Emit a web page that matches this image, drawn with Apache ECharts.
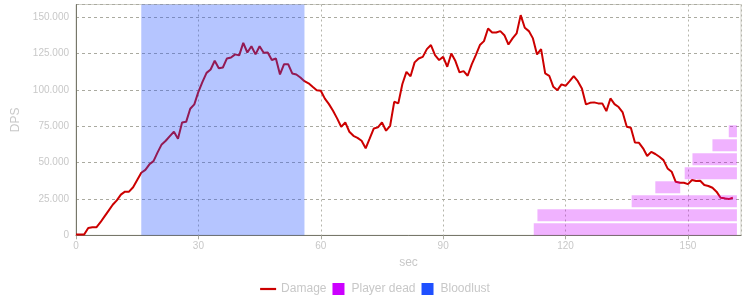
<!DOCTYPE html>
<html>
<head>
<meta charset="utf-8">
<script src="https://cdn.jsdelivr.net/npm/echarts@6/dist/echarts.min.js"></script>
<style>
html,body{margin:0;padding:0;background:#fff;}
#chart{width:750px;height:300px;}
</style>
</head>
<body>
<div id="chart"></div>
<script>
// DPS per second, starting at t = 0 s
const damage = [
  500, 500, 500, 5000, 5500, 5500, 9000, 13000, 17000, 21000,
  24000, 28000, 30000, 30000, 33000, 38000, 43000, 45000, 48800, 51000,
  57000, 62500, 65000, 68200, 71200, 66400, 77600, 78000, 87000, 90000,
  98700, 105500, 111700, 114000, 120000, 114800, 115400, 121600, 122300, 124400,
  123700, 132300, 125700, 130000, 124400, 130000, 125500, 125700, 120500, 121600,
  110600, 117700, 117700, 111300, 110600, 108500, 106000, 104500, 102100, 99800,
  99400, 94000, 90200, 85600, 80400, 74600, 77600, 71200, 68400, 67000,
  65000, 59800, 66600, 73500, 74200, 77600, 71900, 75300, 91800, 90700,
  104000, 112400, 109300, 118900, 121600, 122700, 128000, 130800, 123900, 120500,
  122700, 115900, 125000, 119800, 112000, 112900, 109700, 117500, 123900, 130800,
  133500, 142200, 139500, 139500, 140400, 137600, 131200, 135400, 138800, 151400,
  142700, 140400, 135400, 124400, 128000, 111300, 109700, 102100, 99800, 103800,
  102800, 106000, 109500, 106000, 101000, 90000, 91100, 91400, 90700, 90700,
  85400, 94100, 90200, 88200, 84500, 74600, 74000, 63800, 63600, 59800,
  54500, 57400, 55900, 54000, 51700, 46000, 43700, 36800, 36100, 36100,
  35200, 38000, 37300, 37500, 34600, 33900, 32700, 30000, 25800, 25400,
  24900, 25800
];
// player deaths: time of death and end of the bar (s)
const deathStart = [112.2, 113.1, 136.2, 142.0, 149.2, 151.1, 156.0, 160.0];
const deathEnd   = [162, 162, 162, 148.1, 162, 162, 162, 162];
// Bloodlust window (s)
const bloodlust = [16, 56];
const xTicks = [0, 30, 60, 90, 120, 150];
const yTicks = [0, 25000, 50000, 75000, 100000, 125000, 150000];

const textColor = '#c8c8c8';
const font = "'Liberation Sans', Arial, sans-serif";

function fmt(v) {
  return String(Math.round(v)).replace(/\B(?=(\d{3})+(?!\d))/g, '.');
}

const damageData = damage.map((v, i) => [i, v]);
const deathData = deathStart.map((s, i) => [s, deathEnd[i], i]);

const chart = echarts.init(document.getElementById('chart'), null, {renderer: 'canvas'});
chart.setOption({
  animation: false,
  backgroundColor: '#fff',
  textStyle: {fontFamily: font},
  grid: {left: 76, right: 9, top: 4.5, bottom: 64.7, show: true, borderColor: '#d0d0c8', borderWidth: 1},
  legend: {
    top: 278,
    left: 'center',
    itemWidth: 16,
    itemHeight: 12,
    itemGap: 6,
    textStyle: {color: textColor, fontSize: 12, fontFamily: font},
    data: [
      {name: 'Damage', icon: 'path://M0 0H16V2.2H0Z', itemStyle: {color: '#cc0000'}},
      {name: 'Player dead', icon: 'path://M0 0H12V12H0Z'},
      {name: 'Bloodlust', icon: 'path://M0 0H12V12H0Z'}
    ]
  },
  xAxis: {
    type: 'value',
    min: 0,
    max: 163,
    interval: 30,
    name: 'sec',
    nameLocation: 'middle',
    nameGap: 21,
    nameTextStyle: {color: textColor, fontSize: 12, fontFamily: font},
    axisLine: {show: true, lineStyle: {color: '#77776a', width: 1}},
    axisTick: {show: true, length: 4, lineStyle: {color: '#aaaaa0'}},
    axisLabel: {color: textColor, fontSize: 10, margin: 6, fontFamily: font, showMaxLabel: false,
      formatter: v => xTicks.indexOf(v) >= 0 ? String(v) : ''},
    splitLine: {show: true, lineStyle: {color: '#b4b4aa', type: [2, 3], width: 1}}
  },
  yAxis: [{
    type: 'value',
    min: 0,
    max: 158700,
    interval: 25000,
    name: 'DPS',
    nameLocation: 'middle',
    nameGap: 47,
    nameTextStyle: {color: textColor, fontSize: 12, fontFamily: font},
    axisLine: {show: true, lineStyle: {color: '#77776a', width: 1}},
    axisTick: {show: false},
    axisLabel: {color: textColor, fontSize: 10, margin: 7, fontFamily: font, showMaxLabel: false,
      formatter: v => yTicks.indexOf(v) >= 0 ? fmt(v) : ''},
    splitLine: {show: true, lineStyle: {color: '#aaaaa0', type: [3, 3], width: 1}}
  }, {
    type: 'value',
    show: false,
    min: 0,
    max: 16.48,
    splitLine: {show: false}
  }],
  series: [
    {
      name: 'Damage',
      type: 'line',
      data: damageData,
      symbol: 'none',
      z: 2,
      lineStyle: {color: '#cc0000', width: 2},
      itemStyle: {color: '#cc0000'}
    },
    {
      name: 'Bloodlust',
      type: 'custom',
      z: 3,
      itemStyle: {color: '#1f50ff'},
      data: [[bloodlust[0], bloodlust[1]]],
      renderItem: function (params, api) {
        const p0 = api.coord([api.value(0), 0]);
        const p1 = api.coord([api.value(1), 0]);
        const cs = params.coordSys;
        return {
          type: 'rect',
          shape: {x: p0[0], y: cs.y, width: p1[0] - p0[0], height: cs.height},
          style: {fill: 'rgba(31,80,255,0.33)'}
        };
      }
    },
    {
      name: 'Player dead',
      type: 'custom',
      z: 4,
      yAxisIndex: 1,
      itemStyle: {color: '#cc00ff'},
      data: deathData,
      renderItem: function (params, api) {
        const row = api.value(2);
        const a = api.coord([api.value(0), row]);
        const b = api.coord([api.value(1), row + 1]);
        return {
          type: 'rect',
          shape: {x: a[0], y: b[1] + 2, width: b[0] - a[0], height: a[1] - b[1] - 2},
          style: {fill: 'rgba(204,0,255,0.3)'}
        };
      }
    }
  ]
});
</script>
</body>
</html>
